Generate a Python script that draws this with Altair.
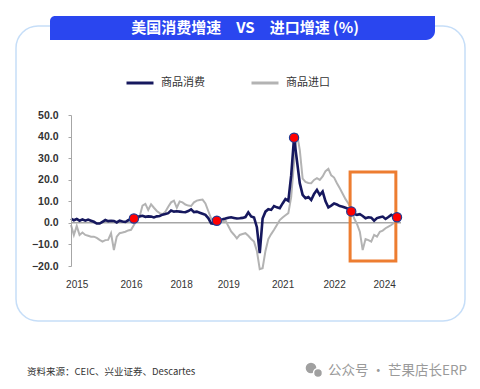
import altair as alt
import pandas as pd

# ---------------- data ----------------
# monthly index 0..114
consumption = [2.0, 1.2, 1.8, 1.0, 1.6, 1.0, 1.5, 1.0, 0.5, -0.3,
               -0.3, 0.5, 1.3, 0.8, 1.0, 0.9, 0.2, 1.0, 0.6, 0.4,
               1.2, 1.8, 2.0, 2.8, 3.0, 3.3, 2.8, 3.0, 2.9, 2.5,
               3.0, 3.2, 3.8, 4.1, 4.5, 5.7, 5.2, 5.4, 5.2, 5.0,
               4.9, 5.5, 6.3, 5.0, 5.2, 4.7, 4.2, 3.7, 2.2, -0.2,
               -0.5, 1.0, 1.5, 1.7, 2.0, 2.4, 2.6, 2.3, 2.0, 2.1,
               2.3, 2.7, 4.9, 3.0, 2.5, -2.0, -14.0, 2.0, 5.2, 6.3,
               6.0, 7.8, 7.2, 6.8, 9.0, 11.0, 10.2, 22.0, 39.5, 29.0,
               18.4, 13.0, 11.4, 12.0, 10.6, 13.4, 15.3, 12.9, 14.5, 10.0,
               7.2, 8.0, 9.0, 8.5, 7.8, 7.5, 7.0, 6.5, 5.3, 4.2,
               3.7, 4.0, 3.2, 2.1, 2.6, 2.4, 1.0, 2.2, 2.6, 2.9,
               1.8, 2.7, 3.7, 3.0, 2.6]
imports_ = [-1.0, -5.6, -1.4, -5.6, -4.5, -5.6, -6.0, -6.4, -6.4, -7.0,
            -7.9, -8.7, -8.0, -7.9, -4.8, -12.6, -6.4, -4.8, -4.5, -4.1,
            -3.5, -3.2, -1.0, 1.3, 2.9, 8.0, 8.8, 6.0, 8.6, 7.0,
            5.5, 4.5, 4.0, 5.2, 7.5, 9.5, 10.3, 7.0, 9.9, 9.5,
            8.5, 8.0, 7.8, 9.5, 10.3, 10.6, 10.8, 9.0, 5.5, 2.0,
            0.8, 0.4, 0.4, 0.5, 1.3, -1.5, -4.0, -5.5, -7.2, -5.6,
            -5.2, -4.8, -6.0, -7.5, -8.7, -13.0, -21.5, -21.0, -13.0, -7.5,
            -5.2, -3.2, -1.0, 1.3, 2.5, 3.5, 4.5, 12.0, 28.0, 41.5,
            33.8, 20.5, 19.0, 18.5, 18.4, 19.9, 20.7, 19.9, 21.5, 24.0,
            25.0, 22.0, 21.0, 18.4, 16.0, 13.5, 11.0, 9.0, 6.5, 2.1,
            -0.5, -4.1, -12.6, -7.5, -8.0, -8.7, -5.6, -6.4, -4.1, -3.6,
            -2.5, -1.7, -1.0, 0.1, 0.4]
months = list(range(len(consumption)))

series_names = ["商品消费", "商品进口"]
series_colors = ["#16185e", "#b3b3b3"]

tick_pos = [2, 21, 38.5, 55, 74, 92, 109.5]
tick_labels = ["2015", "2016", "2018", "2019", "2021", "2022", "2024"]
y_ticks = [-20, -10, 0, 10, 20, 30, 40, 50]

marker_idx = [22, 51, 78, 98, 114]
box_x = [97.6, 113.6]
box_y = [-17.7, 23.6]

title_text = "美国消费增速\u2003VS\u2003进口增速 (%)"
source_text = "资料来源：CEIC、兴业证券、Descartes"
watermark_text = "公众号 · 芒果店长ERP"

# ---------------- tables ----------------
df_c = pd.DataFrame({"idx": months, "value": consumption, "series": series_names[0]})
df_i = pd.DataFrame({"idx": months, "value": imports_, "series": series_names[1]})
df_m = pd.DataFrame({"idx": marker_idx, "value": [consumption[i] for i in marker_idx]})
df_box = pd.DataFrame({"x0": [box_x[0]], "x1": [box_x[1]], "y0": [box_y[0]], "y1": [box_y[1]]})
one = pd.DataFrame({"a": [0]})

label_expr = "".join(f"datum.value == {p} ? '{l}' : " for p, l in zip(tick_pos, tick_labels)) + "''"

xscale = alt.Scale(domain=[0, 114], nice=False, zero=False)
yscale = alt.Scale(domain=[-20, 50], nice=False, zero=False)
xaxis = alt.Axis(values=tick_pos, labelExpr=label_expr, domain=False, ticks=False, grid=False,
                 title=None, labelFontSize=10, labelColor="#333333", labelPadding=13,
                 labelFont="Liberation Sans", labelOverlap=False, labelFlush=False, zindex=1)
yaxis = alt.Axis(values=y_ticks, format=".1f", grid=False, title=None, labelFontSize=10.5,
                 labelFontWeight="bold", labelColor="#333333", labelFont="Liberation Sans",
                 tickSize=3, labelPadding=10, domainColor="#a6a6a6", tickColor="#a6a6a6",
                 zindex=1)
color = alt.Color("series:N",
                  scale=alt.Scale(domain=series_names, range=series_colors),
                  legend=alt.Legend(orient="none", legendX=54, legendY=-47, direction="horizontal",
                                    title=None, symbolType="stroke", symbolSize=729,
                                    symbolStrokeWidth=3, labelFontSize=11,
                                    labelFont="Noto Sans CJK SC", labelColor="#333333",
                                    columnPadding=40, labelOffset=6))

frame = alt.Chart(one).mark_rect(fill="transparent", stroke="#c6def8", strokeWidth=1.5,
                                 cornerRadius=22).encode(
    x=alt.value(-55), x2=alt.value(394), y=alt.value(-89), y2=alt.value(206))
bar = alt.Chart(one).mark_rect(fill="#2a46ef", cornerRadiusTopLeft=5,
                               cornerRadiusBottomRight=9).encode(
    x=alt.value(-21), x2=alt.value(364), y=alt.value(-99), y2=alt.value(-75))
title = alt.Chart(one).mark_text(text=title_text, font="Noto Sans CJK SC", fontWeight="bold",
                                 fontSize=15, color="white", align="center",
                                 baseline="middle").encode(x=alt.value(174), y=alt.value(-87))

zero = alt.Chart(one).mark_rule(color="#a6a6a6", strokeWidth=1.5).encode(
    y=alt.Y(datum=0, scale=yscale, axis=yaxis), x=alt.value(0), x2=alt.value(330))

gray_line = alt.Chart(df_i).mark_line(strokeWidth=2).encode(
    x=alt.X("idx:Q", scale=xscale, axis=xaxis),
    y=alt.Y("value:Q", scale=yscale, axis=yaxis), color=color)
navy_line = alt.Chart(df_c).mark_line(strokeWidth=2.6).encode(
    x=alt.X("idx:Q", scale=xscale, axis=xaxis),
    y=alt.Y("value:Q", scale=yscale, axis=yaxis), color=color)

box = alt.Chart(df_box).mark_rect(fill="transparent", stroke="#ed7d31", strokeWidth=3).encode(
    x=alt.X("x0:Q", scale=xscale, axis=xaxis), x2="x1:Q",
    y=alt.Y("y0:Q", scale=yscale, axis=yaxis), y2="y1:Q")

markers = alt.Chart(df_m).mark_point(filled=True, fill="#ff0000", stroke="#1f3a93",
                                     strokeWidth=1.2, size=85, opacity=1, shape="circle").encode(
    x=alt.X("idx:Q", scale=xscale, axis=xaxis),
    y=alt.Y("value:Q", scale=yscale, axis=yaxis))

source = alt.Chart(one).mark_text(text=source_text, font="Noto Sans CJK SC", fontSize=9.5,
                                  color="#333333", align="left", baseline="middle").encode(
    x=alt.value(-44), y=alt.value(257))
icon1 = alt.Chart(one).mark_point(filled=True, fill="#a0a0a0", stroke="white", strokeWidth=0,
                                  size=113, opacity=1, shape="circle").encode(
    x=alt.value(240), y=alt.value(253))
icon2 = alt.Chart(one).mark_point(filled=True, fill="#a0a0a0", stroke="white", strokeWidth=1.5,
                                  size=80, opacity=1, shape="circle").encode(
    x=alt.value(247), y=alt.value(258))
watermark = alt.Chart(one).mark_text(text=watermark_text, font="Noto Sans CJK SC", fontSize=13.5,
                                     color="#9a9a9a", align="left", baseline="middle").encode(
    x=alt.value(257), y=alt.value(256))

chart = alt.layer(frame, bar, title, zero, gray_line, navy_line, box, markers,
                  source, icon1, icon2, watermark).properties(
    width=326, height=151,
    padding={"left": 63, "top": 107, "right": 75, "bottom": 115},
    autosize=alt.AutoSizeParams(type="none"),
    background="white",
).configure_view(stroke=None)

chart.save("out.html", embed_options={"renderer": "svg", "actions": False})
